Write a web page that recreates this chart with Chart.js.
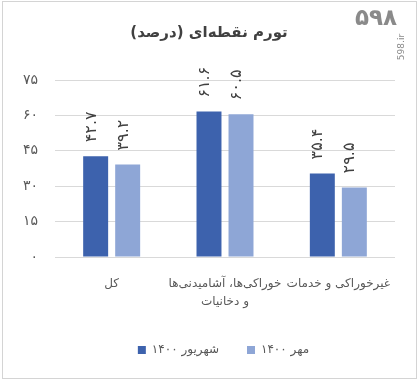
<!DOCTYPE html>
<html>
<head>
<meta charset="utf-8">
<script src="https://cdn.jsdelivr.net/npm/chart.js@4"></script>
<style>
  body { margin: 0; background: #fff; }
  #wrap { position: relative; width: 418px; height: 385px; }
  #frame { position: absolute; left: 2px; top: 1px; width: 413px; height: 376px; border: 1px solid #d4d4d4; pointer-events: none; }
  #logo { position: absolute; left: 355px; top: 4px; font: bold 23px "DejaVu Sans"; color: #8a8a8a; letter-spacing: 2px; direction: ltr; }
  #site { position: absolute; left: 388px; top: 42px; font: 9px "DejaVu Sans"; color: #8a8a8a; transform: rotate(-90deg); transform-origin: center; }
  canvas { direction: rtl; }
</style>
</head>
<body>
<div id="wrap">
  <canvas id="myChart" width="418" height="385"></canvas>
  <div id="frame"></div>
  <div id="logo">۵۹۸</div>
  <div id="site">598.ir</div>
</div>
<script>
chartTitle = 'تورم نقطه‌ای (درصد)';
categories = ['کل', ['خوراکی‌ها، آشامیدنی‌ها', 'و دخانیات'], 'غیرخوراکی و خدمات'];
seriesNames = ['شهریور ۱۴۰۰', 'مهر ۱۴۰۰'];
shahrivar = [42.7, 61.6, 35.4];
mehr = [39.2, 60.5, 29.5];
yTicks = [0, 15, 30, 45, 60, 75];

function toFa(v){
    return String(v).replace(/\d/g, d => '۰۱۲۳۴۵۶۷۸۹'[d]);
}

// title centred on the whole picture
const pageTitle = {
    id: 'pageTitle',
    afterDraw(chart){
        const ctx = chart.ctx;
        ctx.save();
        ctx.font = 'bold 15px "DejaVu Sans"';
        ctx.fillStyle = '#404040';
        ctx.textAlign = 'center';
        ctx.textBaseline = 'middle';
        ctx.fillText(chartTitle, chart.width / 2, 33);
        ctx.restore();
    }
};

// legend sits a bit right of the plot centre
const legendShift = {
    id: 'legendShift',
    afterLayout(chart){
        chart.legend.left += 26;
        chart.legend.right += 26;
    }
};

// rotated value labels above each bar
const barLabels = {
    id: 'barLabels',
    afterDatasetsDraw(chart){
        const ctx = chart.ctx;
        chart.data.datasets.forEach((ds, i) => {
            chart.getDatasetMeta(i).data.forEach((bar, j) => {
                ctx.save();
                ctx.translate(bar.x - 4, bar.y - 14);
                ctx.rotate(-Math.PI / 2);
                ctx.font = '16px "DejaVu Sans"';
                ctx.fillStyle = '#404040';
                ctx.textAlign = 'left';
                ctx.textBaseline = 'middle';
                ctx.direction = 'ltr';
                ctx.fillText(toFa(ds.data[j]), 0, 0);
                ctx.restore();
            });
        });
    }
};

function makeChart(){
    const ctx = document.getElementById('myChart');

    new Chart(ctx, {
        type: 'bar',
        data: {
            labels: categories,
            datasets: [{
                label: seriesNames[0],
                data: shahrivar,
                backgroundColor: '#3d62ad'
            }, {
                label: seriesNames[1],
                data: mehr,
                backgroundColor: '#8ea6d6'
            }]
        },
        options: {
            responsive: false,
            animation: false,
            datasets: {
                bar: { categoryPercentage: 0.565, barPercentage: 0.78 }
            },
            layout: { padding: { left: 0, right: 23, top: 80, bottom: 19 } },
            plugins: {
                title: { display: false },
                legend: {
                    position: 'bottom',
                    labels: {
                        color: '#595959',
                        font: { family: 'DejaVu Sans', size: 12 },
                        boxWidth: 8,
                        boxHeight: 8,
                        padding: 28
                    }
                },
                tooltip: { enabled: false }
            },
            scales: {
                x: {
                    grid: { display: false, drawTicks: false },
                    border: { display: false },
                    afterFit(scale){ scale.height = 59; },
                    ticks: {
                        color: '#595959',
                        font: { family: 'DejaVu Sans', size: 12, lineHeight: 1.5 },
                        padding: 18,
                        autoSkip: false,
                        maxRotation: 0,
                        minRotation: 0
                    }
                },
                y: {
                    min: 0,
                    max: 75,
                    afterFit(scale){ scale.width = 55; },
                    afterBuildTicks(scale){ scale.ticks = yTicks.map(v => ({ value: v })); },
                    grid: { color: '#d9d9d9', drawTicks: false },
                    border: { display: false },
                    ticks: {
                        color: '#595959',
                        font: { family: 'DejaVu Sans', size: 14 },
                        padding: 17,
                        callback: (v) => toFa(v)
                    }
                }
            }
        },
        plugins: [barLabels, pageTitle, legendShift]
    });
}

makeChart();
</script>
</body>
</html>
